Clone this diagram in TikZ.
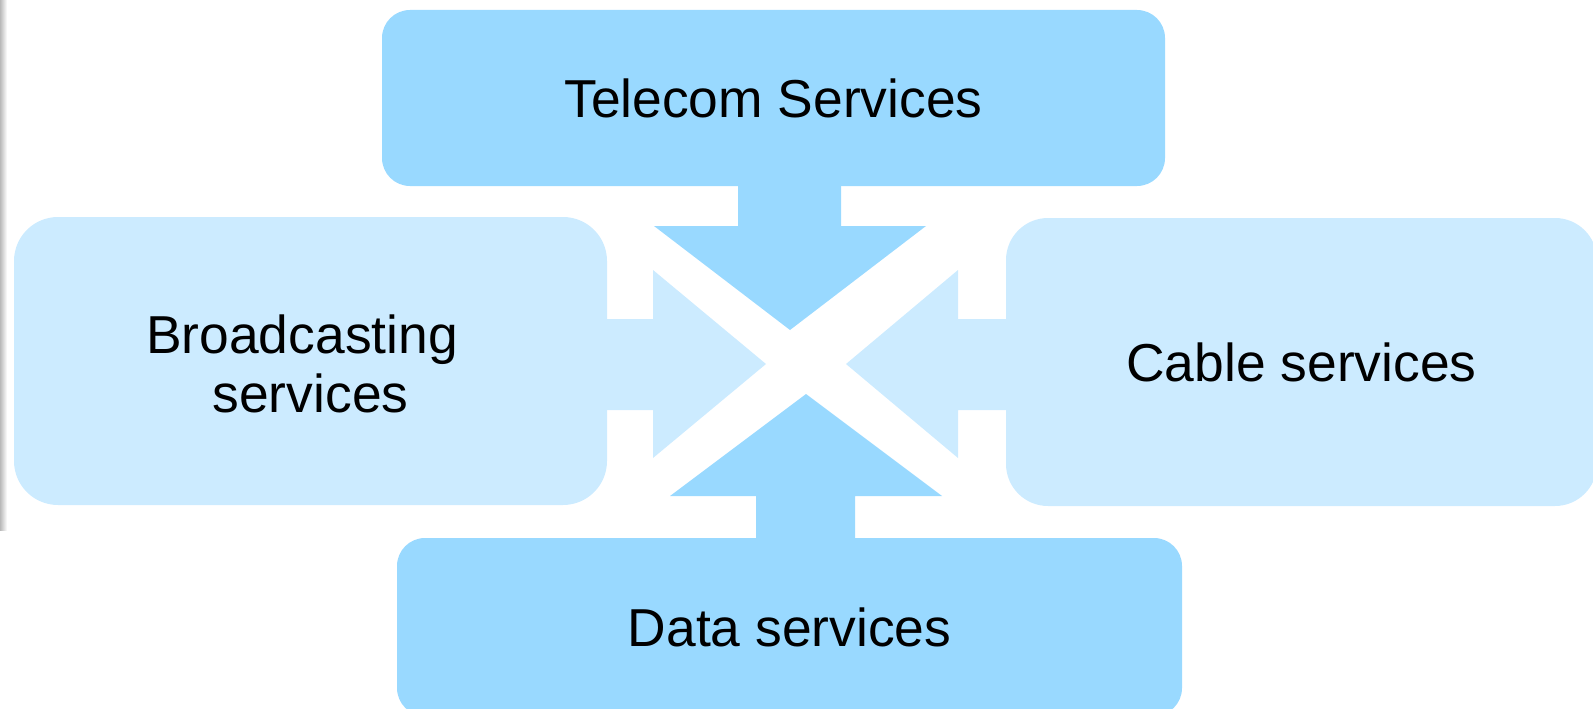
\documentclass[tikz,border=0pt]{standalone}
\usepackage{fontspec}
\setmainfont{Liberation Sans}
\usepackage{tikz}

\definecolor{darkblue}{RGB}{153,217,255}
\definecolor{lightblue}{RGB}{204,235,255}

\tikzset{
  servicebox/.style={rectangle, inner sep=0pt, align=center,
    font=\fontsize{53.4}{59}\selectfont},
}

\begin{document}
\begin{tikzpicture}[x=1pt,y=-1pt]
\useasboundingbox (0,0) rectangle (1593,709);

% Grey strip on the left edge
\shade[left color=gray!55, right color=white] (0,0) rectangle (7,530);

% Service boxes
\node [servicebox, fill=darkblue, rounded corners=28pt, minimum width=783pt, minimum height=176pt] (telecom) at (773.5,98) {Telecom Services};
\node [servicebox, fill=lightblue, rounded corners=44pt, minimum width=593pt, minimum height=288pt] (broadcast) at (310.5,361) {};
\node [servicebox, fill=lightblue, rounded corners=42pt, minimum width=591pt, minimum height=288pt] (cable) at (1301.5,362) {Cable services};
\node [servicebox, fill=darkblue, rounded corners=28pt, minimum width=785pt, minimum height=178pt] (data) at (789.5,627) {Data services};

% Text of the left box
\node [servicebox] (broadcasttext) at (302,364) {Broadcasting\\\hspace*{17pt}services};

% Block arrows pointing to the middle
\fill [darkblue] (738,186) -- (738,226) -- (654,226) -- (790,330) -- (926,226) -- (841,226) -- (841,186) -- cycle;
\fill [darkblue] (756,538) -- (756,496) -- (670,496) -- (806,394) -- (942,496) -- (855,496) -- (855,538) -- cycle;
\fill [lightblue] (606,319) -- (653,319) -- (653,270) -- (766,364) -- (653,458) -- (653,410) -- (606,410) -- cycle;
\fill [lightblue] (1006,319) -- (958,319) -- (958,270) -- (846,364) -- (958,458) -- (958,410) -- (1006,410) -- cycle;

\end{tikzpicture}
\end{document}
